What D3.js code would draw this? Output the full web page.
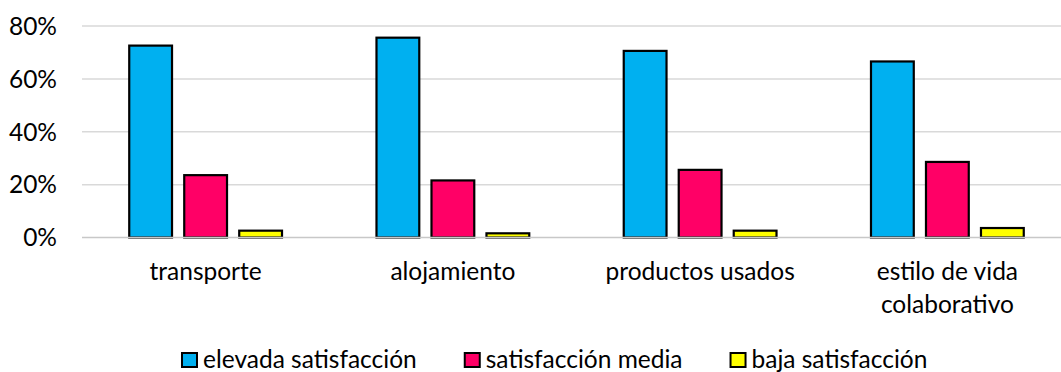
<!DOCTYPE html>
<html>
<head>
<meta charset="utf-8">
<script src="https://cdn.jsdelivr.net/npm/d3@7"></script>
<style>
  html, body { margin: 0; padding: 0; background: #ffffff; }
  svg { display: block; }
  text { font-family: Lato, "Open Sans", sans-serif; fill: #000; }
</style>
</head>
<body>
<div id="chart"></div>
<script>
// ---- data ----
const categories = ["transporte", "alojamiento", "productos usados", "estilo de vida colaborativo"];
const categoryLines = [["transporte"], ["alojamiento"], ["productos usados"], ["estilo de vida", "colaborativo"]];
const seriesNames = ["elevada satisfacción", "satisfacción media", "baja satisfacción"];
const elevada = [73, 76, 71, 67];
const media = [24, 22, 26, 29];
const baja = [3, 2, 3, 4];
const seriesColors = ["#00B0F0", "#FF0066", "#FFFF00"];
const yTicks = [0, 20, 40, 60, 80];
const yTickLabels = ["0%", "20%", "40%", "60%", "80%"];

const seriesValues = [elevada, media, baja];

// ---- layout ----
const W = 1061, H = 372;
const plot = { left: 82, right: 1071, top: 26, bottom: 237.5 };
const fontSize = 24.5;

const svg = d3.select("#chart").append("svg").attr("width", W).attr("height", H);

const y = d3.scaleLinear().domain([0, 80]).range([plot.bottom, plot.top]);
const x0 = d3.scaleBand().domain(categories).range([plot.left, plot.right]).paddingInner(0).paddingOuter(0);
const x1 = d3.scaleBand().domain(seriesNames).range([0, x0.bandwidth()]).paddingInner(0.182).paddingOuter(0.839);

// gridlines
svg.append("g").selectAll("line").data(yTicks.filter(d => d !== 0)).join("line")
  .attr("x1", plot.left).attr("x2", plot.right)
  .attr("y1", d => y(d)).attr("y2", d => y(d))
  .attr("stroke", "#d9d9d9").attr("stroke-width", 1.5);

// y tick labels
svg.append("g").selectAll("text").data(yTicks).join("text")
  .attr("x", 57).attr("y", d => y(d))
  .attr("dy", "0.36em")
  .attr("text-anchor", "end")
  .attr("font-size", fontSize)
  .text((d, i) => yTickLabels[i]);

// bars
const sw = 2.2;
const groups = svg.append("g").selectAll("g").data(categories).join("g")
  .attr("transform", d => `translate(${x0(d)},0)`);
groups.selectAll("rect")
  .data((c, ci) => seriesNames.map((s, si) => ({ s, si, v: seriesValues[si][ci] })))
  .join("rect")
  .attr("x", d => x1(d.s) + sw / 2)
  .attr("width", x1.bandwidth() - sw)
  .attr("y", d => y(d.v) + sw / 2)
  .attr("height", d => y(0) - y(d.v) - sw / 2)
  .attr("fill", d => seriesColors[d.si])
  .attr("stroke", "#000").attr("stroke-width", sw);

// zero axis line
svg.append("line")
  .attr("x1", plot.left).attr("x2", plot.right)
  .attr("y1", y(0)).attr("y2", y(0))
  .attr("stroke", "#c8c8c8").attr("stroke-width", 1.5);

// category labels
const catG = svg.append("g").selectAll("text").data(categories).join("text")
  .attr("text-anchor", "middle")
  .attr("font-size", fontSize)
  .attr("x", d => x0(d) + x0.bandwidth() / 2)
  .attr("y", 280);
catG.each(function (d, i) {
  const t = d3.select(this);
  categoryLines[i].forEach((line, li) => {
    t.append("tspan")
      .attr("x", x0(d) + x0.bandwidth() / 2)
      .attr("dy", li === 0 ? 0 : 33)
      .text(line);
  });
});

// legend
const legend = svg.append("g");
let lx = 181;
const ly = 368;
seriesNames.forEach((name, i) => {
  legend.append("rect")
    .attr("x", lx + 1).attr("y", ly - 15)
    .attr("width", 15).attr("height", 14)
    .attr("fill", seriesColors[i])
    .attr("stroke", "#000").attr("stroke-width", 2);
  const t = legend.append("text")
    .attr("x", lx + 22).attr("y", ly)
    .attr("font-size", fontSize)
    .text(name);
  const w = t.node().getComputedTextLength();
  lx = lx + 22 + w + 47;
});
</script>
</body>
</html>
